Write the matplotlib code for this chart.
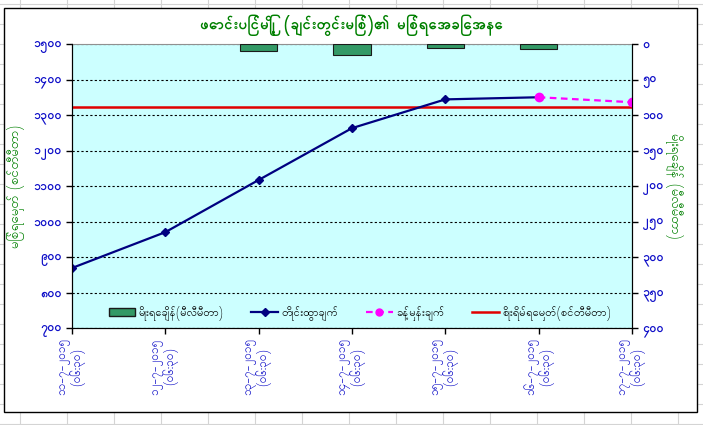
import matplotlib
matplotlib.use("Agg")
import matplotlib.pyplot as plt
from matplotlib.lines import Line2D
from matplotlib.patches import Rectangle, Patch
import numpy as np

plt.rcParams['font.family'] = ['Padauk', 'DejaVu Sans']

# data
dates = ['၁၁-၇-၂၀၁၅', '၁၂-၇-၂၀၁၅', '၁၃-၇-၂၀၁၅', '၁၄-၇-၂၀၁၅',
         '၁၅-၇-၂၀၁၅', '၁၆-၇-၂၀၁၅', '၁၇-၇-၂၀၁၅']
times = ['(၀၆:၃၀)'] * 7
observed = [869, 970, 1117, 1263, 1344, 1350, np.nan]
forecast = [np.nan, np.nan, np.nan, np.nan, np.nan, 1350, 1336]
rainfall = [0, 0, 10, 15, 5, 7, 0]
danger_level = 1322

left_ticks = [700, 800, 900, 1000, 1100, 1200, 1300, 1400, 1500]
right_ticks = [0, 50, 100, 150, 200, 250, 300, 350, 400]

title = 'ဖောင်းပြင်မြို့ (ချင်းတွင်းမြစ်)၏ မြစ်ရေအခြေအနေ'
left_label = 'မြစ်ရေမှတ် (စင်တီမီတာ)'
right_label = 'မိုးရေချိန် (မီလီမီတာ)'
leg_rain = 'မိုးရေချိန်(မီလီမီတာ)'
leg_obs = 'တိုင်းထွာချက်'
leg_fc = 'ခန့်မှန်းချက်'
leg_danger = 'စိုးရိမ်ရေမှတ်(စင်တီမီတာ)'

mm_digits = str.maketrans('0123456789', '၀၁၂၃၄၅၆၇၈၉')

W, H = 703, 425
blue = '#1010c8'
green = '#008000'

fig = plt.figure(figsize=(W / 100, H / 100), dpi=100)

# spreadsheet cells behind the chart object
for x in range(20, W, 47):
    fig.add_artist(Line2D([x / W, x / W], [0, 1], color='#d4d4d4', lw=0.8, zorder=-3))
for y in range(4, H, 20):
    fig.add_artist(Line2D([0, 1], [1 - y / H, 1 - y / H], color='#d4d4d4', lw=0.8, zorder=-3))
fig.add_artist(Rectangle((4 / W, 1 - 412 / H), 693 / W, 404 / H, facecolor='white',
                         edgecolor='black', lw=1.0, zorder=-2))

ax = fig.add_axes([72 / W, 1 - 328 / H, 560 / W, 284 / H])
ax.set_facecolor('#ccffff')
x = np.arange(len(dates))

ax.plot(x, observed, color='#000080', lw=1.6, marker='D', ms=4, zorder=4)
ax.plot(x, forecast, color='#ff00ff', lw=1.6, ls=(0, (3, 2)), marker='o', ms=6, zorder=5)
ax.axhline(danger_level, color='#e00000', lw=1.8, zorder=3)

ax.set_xlim(0, len(dates) - 1)
ax.set_ylim(left_ticks[0], left_ticks[-1])
ax.set_yticks(left_ticks)
ax.set_yticklabels([str(v).translate(mm_digits) for v in left_ticks], color=blue, fontsize=9, fontweight='bold')
ax.set_xticks(x)
ax.set_xticklabels([d + '\n' + t for d, t in zip(dates, times)], rotation=90, color=blue,
                   fontsize=8.5, ha='center', va='top', linespacing=0.9)
ax.tick_params(axis='both', direction='out', length=4, width=1)
ax.grid(axis='y', color='black', ls=(0, (2, 2)), lw=0.8)
ax.set_axisbelow(True)
for s in ['left', 'bottom', 'right']:
    ax.spines[s].set_color('black')
ax.spines['top'].set_color('#909090')
ax.set_ylabel(left_label, color=green, fontsize=9.5, labelpad=6)

ax2 = ax.twinx()
rain = np.array(rainfall, dtype=float)
has_rain = rain > 0
ax2.bar(x[has_rain], rain[has_rain], width=0.4, color='#339966', edgecolor='#1a1a1a', lw=0.8, zorder=2)
ax2.set_ylim(right_ticks[-1], right_ticks[0])
ax2.set_yticks(right_ticks)
ax2.set_yticklabels([str(v).translate(mm_digits) for v in right_ticks], color=blue, fontsize=9, fontweight='bold')
ax2.tick_params(axis='y', direction='out', length=4, width=1)
ax2.set_ylabel(right_label, color=green, fontsize=9.5, rotation=-90, labelpad=14)
ax2.spines['top'].set_visible(False)

handles = [Patch(facecolor='#339966', edgecolor='#1a1a1a'),
           Line2D([], [], color='#000080', lw=1.6, marker='D', ms=4),
           Line2D([], [], color='#ff00ff', lw=1.6, ls=(0, (3, 2)), marker='o', ms=5),
           Line2D([], [], color='#e00000', lw=1.8)]
ax2.legend(handles, [leg_rain, leg_obs, leg_fc, leg_danger], ncol=4, loc='lower center',
           bbox_to_anchor=(0.514, -0.01), frameon=False, fontsize=8, handlelength=2.4,
           columnspacing=2.5, handletextpad=0.3)

fig.text(352 / W, 1 - 25 / H, title, color=green, fontsize=11, fontweight='bold', ha='center', va='center')

fig.savefig('out.png', dpi=100)
